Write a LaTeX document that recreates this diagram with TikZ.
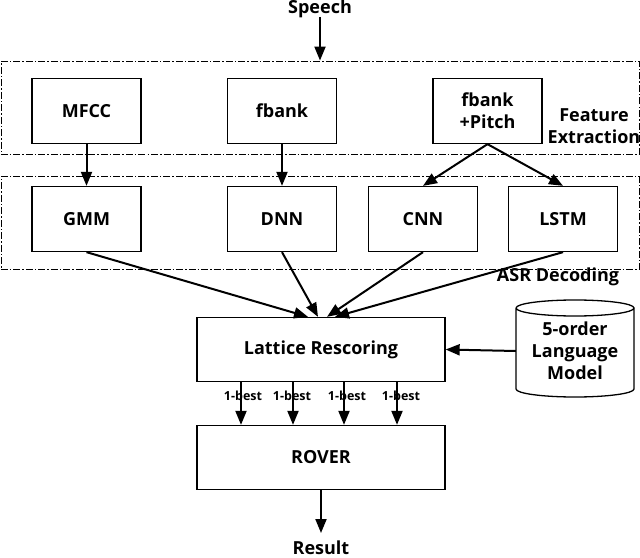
\documentclass[tikz,border=0pt]{standalone}
\usepackage{fontspec}
\setmainfont{Open Sans}
\usetikzlibrary{arrows.meta}
\tikzset{
  x=1bp, y=-1bp,
  txt/.style={font=\fontsize{18bp}{22bp}\selectfont\bfseries, align=center, inner sep=0pt},
  small/.style={font=\fontsize{12.5bp}{14bp}\selectfont\bfseries, inner sep=0pt},
  box/.style={txt, draw, line width=1.3bp, minimum width=109bp, minimum height=65bp},
  widebox/.style={box, minimum width=248bp, minimum height=64bp},
  group/.style={draw, line width=0.9bp, dash pattern=on 7bp off 2bp on 1.5bp off 2bp, minimum width=638bp, minimum height=93bp, inner sep=0pt},
  arr/.style={line width=2bp, -{Triangle[length=14bp,width=11bp]}},
}
\begin{document}
\begin{tikzpicture}
\useasboundingbox (0,0) rectangle (640,558);
% groups
\node[group] (fe) at (320,107.5) {};
\node[group] (asr) at (320,223) {};
\node[txt] (felbl) at (594,126) {Feature\\Extraction};
\node[txt] (asrlbl) at (558,277) {ASR Decoding};
% features
\node[box] (mfcc) at (86.5,111) {MFCC};
\node[box] (fbank) at (282,111) {fbank};
\node[box] (fp) at (487.5,111) {fbank\\+Pitch};
% models
\node[box] (gmm) at (86.5,219) {GMM};
\node[box] (dnn) at (282,219) {DNN};
\node[box] (cnn) at (423,219) {CNN};
\node[box] (lstm) at (563,219) {LSTM};
% lattice, rover
\node[widebox] (lat) at (321,349.5) {Lattice Rescoring};
\node[widebox] (rov) at (321,457.5) {ROVER};
% language model cylinder
\node[txt, minimum width=118bp, minimum height=80bp] (lm) at (575,351) {5-order\\Language\\Model};
\draw[line width=1.3bp] (lm.center) ++(-59,-43) coordinate (lmtl)
  arc[start angle=180, end angle=-180, x radius=59bp, y radius=8bp]
  (lmtl) -- ++(0,81) arc[start angle=180, end angle=360, x radius=59bp, y radius=8bp] -- ++(0,-81);
% speech / result
\node[txt] (speech) at (320,9) {Speech};
\coordinate (speechout) at (320,17);
\node[txt] (res) at (321,548) {Result};
\coordinate (resin) at (321,533);
% connectors
\draw[arr] (speechout) -- (fe.north);
\draw[arr] (mfcc.south) -- (gmm.north);
\draw[arr] (fbank.south) -- (dnn.north);
\draw[arr] (fp.south) -- (cnn.north);
\draw[arr] (fp.south) -- (lstm.north);
\draw[arr] (gmm.south) -- ([xshift=-13bp]lat.north);
\draw[arr] (dnn.south) -- ([xshift=-3bp]lat.north);
\draw[arr] (cnn.south) -- ([xshift=6bp]lat.north);
\draw[arr] (lstm.south) -- ([xshift=14bp]lat.north);
\draw[arr] (lm.west) -- (lat.east);
\foreach \dx/\lx [count=\i] in {-80/-78,-28/-29,23/26,76/80}{
  \draw[arr] ([xshift=\dx bp]lat.south) -- ([xshift=\dx bp]rov.north);
  \node[small] (best\i) at ([xshift=\lx bp, yshift=-14bp]lat.south) {1-best};
}
\draw[arr] (rov.south) -- (resin);
\end{tikzpicture}
\end{document}
